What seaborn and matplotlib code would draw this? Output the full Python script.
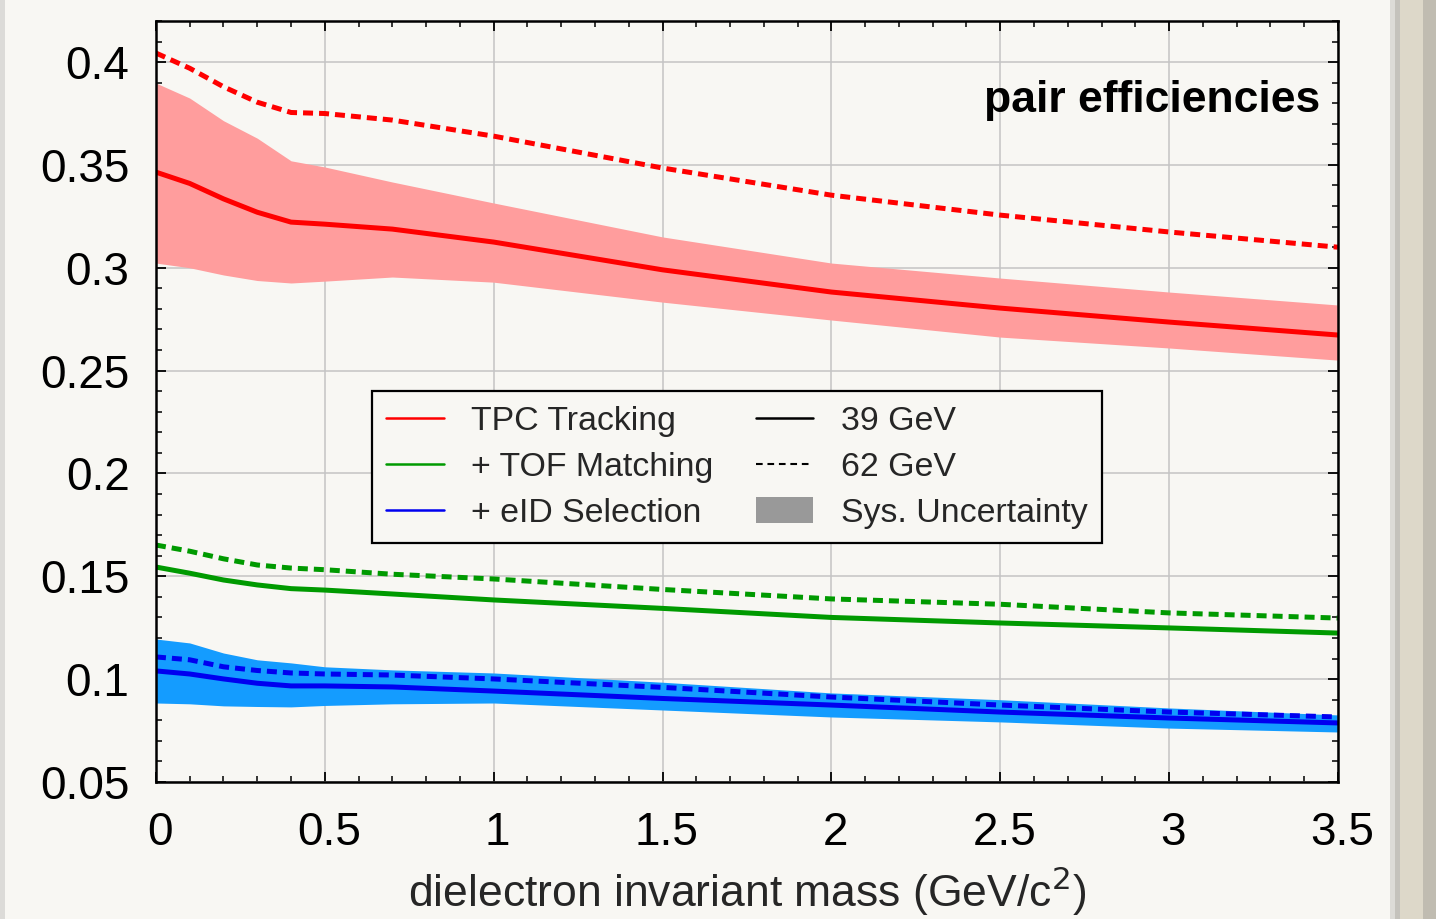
import matplotlib
matplotlib.use("Agg")
import matplotlib.pyplot as plt
import seaborn as sns
import numpy as np
import pandas as pd
from matplotlib.lines import Line2D
from matplotlib.patches import Patch, Rectangle
from matplotlib.ticker import MultipleLocator
from matplotlib.transforms import ScaledTranslation

# ---------------- data ----------------
mass = [0.0, 0.1, 0.2, 0.3, 0.4, 0.5, 0.7, 1.0, 1.5, 2.0, 2.5, 3.0, 3.5]

tpc_39 = [0.3465, 0.3410, 0.3335, 0.3270, 0.3222, 0.3212, 0.3188, 0.3125, 0.2990, 0.2882, 0.2804, 0.2736, 0.2673]
tpc_62 = [0.4044, 0.3970, 0.3880, 0.3805, 0.3755, 0.3750, 0.3718, 0.3640, 0.3485, 0.3353, 0.3256, 0.3174, 0.3100]
tpc_39_sys_hi = [0.3898, 0.3825, 0.3715, 0.3630, 0.3520, 0.3490, 0.3417, 0.3315, 0.3150, 0.3023, 0.2950, 0.2882, 0.2819]
tpc_39_sys_lo = [0.3023, 0.3000, 0.2965, 0.2938, 0.2926, 0.2935, 0.2955, 0.2930, 0.2833, 0.2746, 0.2663, 0.2610, 0.2551]

tof_39 = [0.1545, 0.1515, 0.1482, 0.1458, 0.1440, 0.1433, 0.1414, 0.1385, 0.1344, 0.1300, 0.1273, 0.1249, 0.1224]
tof_62 = [0.1652, 0.1622, 0.1585, 0.1555, 0.1540, 0.1532, 0.1510, 0.1487, 0.1436, 0.1390, 0.1364, 0.1322, 0.1297]

eid_39 = [0.1040, 0.1025, 0.1001, 0.0980, 0.0967, 0.0967, 0.0962, 0.0942, 0.0906, 0.0874, 0.0840, 0.0811, 0.0787]
eid_62 = [0.1108, 0.1094, 0.1060, 0.1042, 0.1030, 0.1025, 0.1020, 0.1001, 0.0960, 0.0913, 0.0874, 0.0840, 0.0816]
eid_39_sys_hi = [0.1195, 0.1176, 0.1127, 0.1094, 0.1079, 0.1060, 0.1045, 0.1030, 0.0985, 0.0933, 0.0900, 0.0860, 0.0826]
eid_39_sys_lo = [0.0884, 0.0880, 0.0870, 0.0867, 0.0865, 0.0872, 0.0880, 0.0884, 0.0850, 0.0816, 0.0792, 0.0762, 0.0743]

stages = ["TPC Tracking", "+ TOF Matching", "+ eID Selection"]
energies = ["39 GeV", "62 GeV"]
x_ticks = [0, 0.5, 1, 1.5, 2, 2.5, 3, 3.5]
x_tick_labels = ["0", "0.5", "1", "1.5", "2", "2.5", "3", "3.5"]
y_ticks = [0.05, 0.1, 0.15, 0.2, 0.25, 0.3, 0.35, 0.4]
y_tick_labels = ["0.05", "0.1", "0.15", "0.2", "0.25", "0.3", "0.35", "0.4"]

series = {
    ("TPC Tracking", "39 GeV"): tpc_39,
    ("TPC Tracking", "62 GeV"): tpc_62,
    ("+ TOF Matching", "39 GeV"): tof_39,
    ("+ TOF Matching", "62 GeV"): tof_62,
    ("+ eID Selection", "39 GeV"): eid_39,
    ("+ eID Selection", "62 GeV"): eid_62,
}
rows = []
for (st, en), vals in series.items():
    for m, v in zip(mass, vals):
        rows.append({"mass": m, "eff": v, "stage": st, "energy": en})
df = pd.DataFrame(rows)

# ---------------- style ----------------
BG = "#f8f7f3"
sns.set_style("ticks")
plt.rcParams["font.family"] = ["Liberation Sans", "DejaVu Sans"]
plt.rcParams["axes.linewidth"] = 1.8

colors = {"TPC Tracking": "#ff0000", "+ TOF Matching": "#009a00", "+ eID Selection": "#0000f0"}
band_colors = {"TPC Tracking": "#ff9d9d", "+ eID Selection": "#149cff"}

fig = plt.figure(figsize=(14.36, 9.19), dpi=100, facecolor=BG)
ax = fig.add_axes([0.1086, 0.1491, 0.8231, 0.8281])
ax.set_facecolor(BG)

# systematic bands
ax.fill_between(mass, tpc_39_sys_lo, tpc_39_sys_hi, color=band_colors["TPC Tracking"], lw=0, zorder=2)
ax.fill_between(mass, eid_39_sys_lo, eid_39_sys_hi, color=band_colors["+ eID Selection"], lw=0, zorder=2)

sns.lineplot(data=df, x="mass", y="eff", hue="stage", style="energy",
             palette=colors, hue_order=stages, style_order=energies,
             dashes={"39 GeV": "", "62 GeV": (2.0, 1.2)},
             estimator=None, errorbar=None, legend=False, lw=3.6, ax=ax, zorder=3)

ax.set_xlim(0, 3.5)
ax.set_ylim(0.05, 0.42)
ax.set_xticks(x_ticks)
ax.set_xticklabels(x_tick_labels)
ax.set_yticks(y_ticks)
ax.set_yticklabels(y_tick_labels)
ax.xaxis.set_minor_locator(MultipleLocator(0.1))
ax.yaxis.set_minor_locator(MultipleLocator(0.01))
ax.tick_params(which="both", direction="in", top=True, right=True, colors="black")
ax.tick_params(which="major", length=7.5, width=1.3)
ax.tick_params(which="minor", length=4, width=1.1)
ax.tick_params(axis="x", which="major", labelsize=33, pad=21)
ax.tick_params(axis="y", which="major", labelsize=33, pad=19)
# reference x tick labels sit slightly right of their ticks
for lab in ax.get_xticklabels():
    lab.set_transform(lab.get_transform() + ScaledTranslation(4 / 100, 0, fig.dpi_scale_trans))
ax.grid(True, which="major", color="#c4c4c4", lw=1.1)
ax.set_axisbelow(True)
for s in ax.spines.values():
    s.set_color("black")
    s.set_linewidth(1.8)
    s.set_zorder(5)

ax.set_xlabel("dielectron invariant mass (GeV/c$^{2}$)", fontsize=32, labelpad=7)
ax.set_ylabel("")

ax.text(0.9848, 0.880, "pair efficiencies", transform=ax.transAxes, ha="right",
        va="baseline", fontsize=32, fontweight="bold", color="black", zorder=6)

# legend
handles = [
    Line2D([], [], color=colors["TPC Tracking"], lw=1.8),
    Line2D([], [], color=colors["+ TOF Matching"], lw=1.8),
    Line2D([], [], color=colors["+ eID Selection"], lw=1.8),
    Line2D([], [], color="black", lw=1.8),
    Line2D([], [], color="black", lw=1.5, linestyle=(0, (3.2, 2.3))),
    Patch(facecolor="#999999", edgecolor="none"),
]
labels = stages + energies + ["Sys. Uncertainty"]
leg = ax.legend(handles, labels, ncol=2, loc="upper center",
                bbox_to_anchor=(0.4915, 0.5138), fontsize=24.4, frameon=True,
                fancybox=False, edgecolor="black", facecolor=BG, framealpha=1,
                borderpad=0.42, labelspacing=0.42, handlelength=1.7,
                handletextpad=0.8, columnspacing=1.25, handleheight=0.8,
                borderaxespad=0)
leg.get_frame().set_linewidth(1.6)
leg.set_zorder(7)

# window-like border decorations
fig.patches.append(Rectangle((1390 / 1436, 0), 5 / 1436, 1, transform=fig.transFigure,
                             facecolor="#dcdbd7", edgecolor="none", zorder=0))
fig.patches.append(Rectangle((1395 / 1436, 0), 5 / 1436, 1, transform=fig.transFigure,
                             facecolor="#c4c2bc", edgecolor="none", zorder=0))
fig.patches.append(Rectangle((1400 / 1436, 0), 23 / 1436, 1, transform=fig.transFigure,
                             facecolor="#ddd8c9", edgecolor="none", zorder=0))
fig.patches.append(Rectangle((1423 / 1436, 0), 13 / 1436, 1, transform=fig.transFigure,
                             facecolor="#c0bcb1", edgecolor="none", zorder=0))
fig.patches.append(Rectangle((0, 0), 5 / 1436, 1, transform=fig.transFigure,
                             facecolor="#dcdbd8", edgecolor="none", zorder=0))

fig.savefig("out.png", dpi=100, facecolor=BG)
